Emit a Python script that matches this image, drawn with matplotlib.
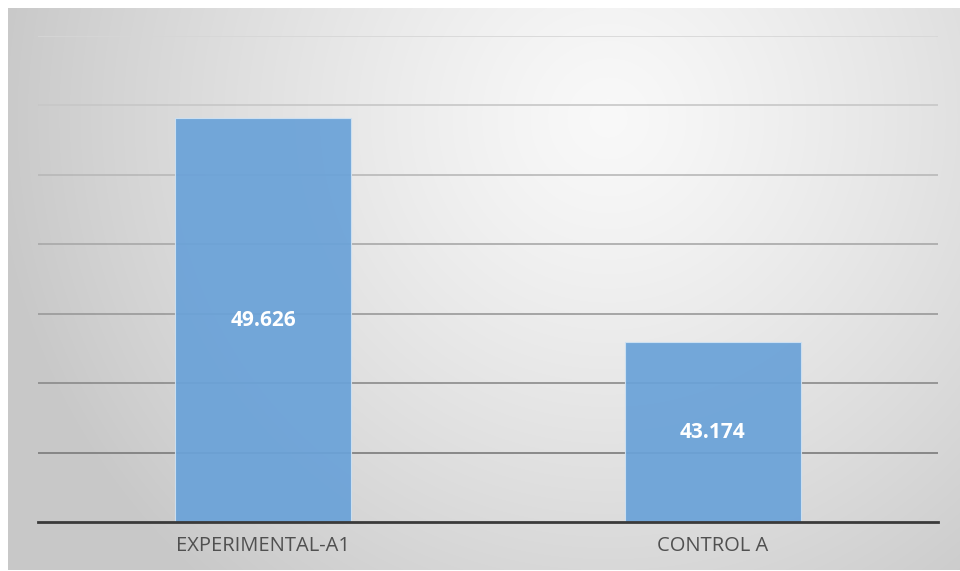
import matplotlib.pyplot as plt
import numpy as np

# data
categories = ["EXPERIMENTAL-A1", "CONTROL A"]
values = [49.626, 43.174]
value_labels = ["49.626", "43.174"]
y_min, y_max, y_step = 38, 52, 2

W, H = 960, 571
fig = plt.figure(figsize=(W / 100, H / 100), dpi=100, facecolor="white")

# radial grey background (Excel style)
bg = fig.add_axes([8 / W, 1 / H, (W - 8) / W, (H - 9) / H])
bg.set_axis_off()
yy, xx = np.mgrid[0:H - 9, 0:W - 8]
cx, cy = 600, 110
r = np.sqrt((xx - cx) ** 2 + (yy - cy) ** 2) / 620
r = np.clip(r, 0, 1) ** 1.25
shade = 0.975 - r * 0.19
bg.imshow(np.dstack([shade] * 3), aspect="auto", extent=(0, 1, 0, 1), origin="upper")
bg.set_xlim(0, 1)
bg.set_ylim(0, 1)

ax = fig.add_axes([38 / W, 49 / H, 900 / W, 486 / H])
ax.patch.set_alpha(0)
x = np.arange(len(categories))
bars = ax.bar(x, values, width=0.39, color="#6aa2d8", alpha=0.93,
              edgecolor="#cfe2f3", linewidth=0.8, zorder=3)

ax.set_xlim(-0.5, len(categories) - 0.5)
ax.set_ylim(y_min, y_max)
ax.set_yticks(np.arange(y_min + y_step, y_max + 0.1, y_step))
ax.yaxis.grid(True, linewidth=1.2, zorder=1)
ax.set_axisbelow(True)
lines = ax.get_ygridlines()
n = len(lines)
for i, gl in enumerate(lines):
    g = 0.48 + 0.36 * i / (n - 1)
    gl.set_color((g, g, g))
ax.tick_params(axis="y", left=False, labelleft=False)
ax.tick_params(axis="x", length=0, pad=10)
ax.set_xticks(x)
ax.set_xticklabels(categories, fontsize=14.5, color="#505050", family="Open Sans")

for s in ["top", "right", "left"]:
    ax.spines[s].set_visible(False)
ax.spines["bottom"].set_color("#3a3a3a")
ax.spines["bottom"].set_linewidth(2)
ax.spines["bottom"].set_zorder(4)

for b, lab in zip(bars, value_labels):
    ax.text(b.get_x() + b.get_width() / 2, (y_min + b.get_height()) / 2, lab,
            ha="center", va="center", color="white", fontsize=15,
            fontweight="bold", family="Open Sans", zorder=5)

fig.savefig("out.png", dpi=100, facecolor="white")
